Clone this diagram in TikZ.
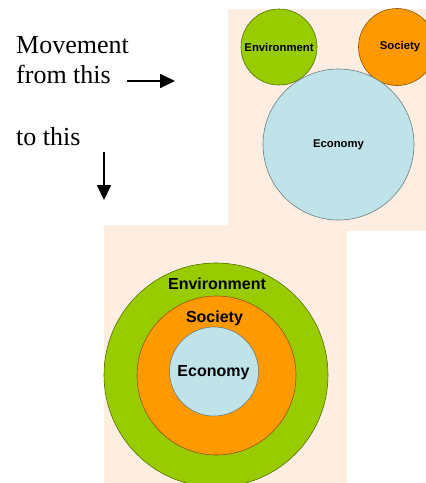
\documentclass[tikz,border=0pt]{standalone}
\usepackage{fontspec}
\setmainfont{Liberation Serif}
\newfontfamily\labelfont{Liberation Sans}
\usetikzlibrary{arrows.meta}
\definecolor{peach}{RGB}{253,238,225}
\definecolor{envgreen}{RGB}{153,204,0}
\definecolor{socorange}{RGB}{255,153,0}
\definecolor{ecoblue}{RGB}{192,227,234}
\tikzset{panel/.style={fill=peach, draw=none},
  ball/.style={circle, inner sep=0pt, fill=#1, draw=#1!55!black, line width=0.6pt},
  smalltag/.style={font=\labelfont\bfseries\fontsize{11.3}{13}\selectfont},
  bigtag/.style={font=\labelfont\bfseries\fontsize{16}{18}\selectfont},
  caption/.style={font=\fontsize{26}{30}\selectfont, anchor=base west, inner sep=0pt},
  move/.style={line width=1.8pt, -{Triangle[length=15pt,width=14pt]}}}

\begin{document}
\begin{tikzpicture}[x=1pt, y=-1pt]
    \useasboundingbox (0,0) rectangle (426,483);
    % the way it is
    \fill[panel] (228,9) rectangle (426,231);
    \node[ball=envgreen, minimum size=76pt, smalltag] (envA) at (279,47) {Environment};
    \node[ball=socorange, minimum size=77pt, smalltag] (socA) at (397,47) {};
    \node[smalltag] at (400,47) {Society};
    \node[ball=ecoblue, minimum size=151pt, smalltag] (ecoA) at (338.5,144.5) {Economy};
    % the way it should be
    \fill[panel] (104,225) rectangle (347,483);
    \node[ball=envgreen, minimum size=224pt] (envB) at (216,375) {};
    \node[ball=socorange, minimum size=159pt] (socB) at (216.5,375.5) {};
    \node[ball=ecoblue, minimum size=89pt] (ecoB) at (214,371.5) {};
    \node[bigtag] (envtag) at (217,284) {Environment};
    \node[bigtag] (soctag) at (214.5,318) {Society};
    \node[bigtag] (ecotag) at (213.5,373) {Economy};
    % captions and arrows
    \node[caption] (move) at (16,53) {Movement};
    \node[caption] (from) at (16,83) {from this};
    \node[caption] (to) at (16,145) {to this};
    \coordinate (r0) at (127,81);
    \coordinate (r1) at (175,81);
    \coordinate (d0) at (104,152);
    \coordinate (d1) at (104,200);
    \draw[move] (r0) -- (r1);
    \draw[move] (d0) -- (d1);
\end{tikzpicture}
\end{document}
